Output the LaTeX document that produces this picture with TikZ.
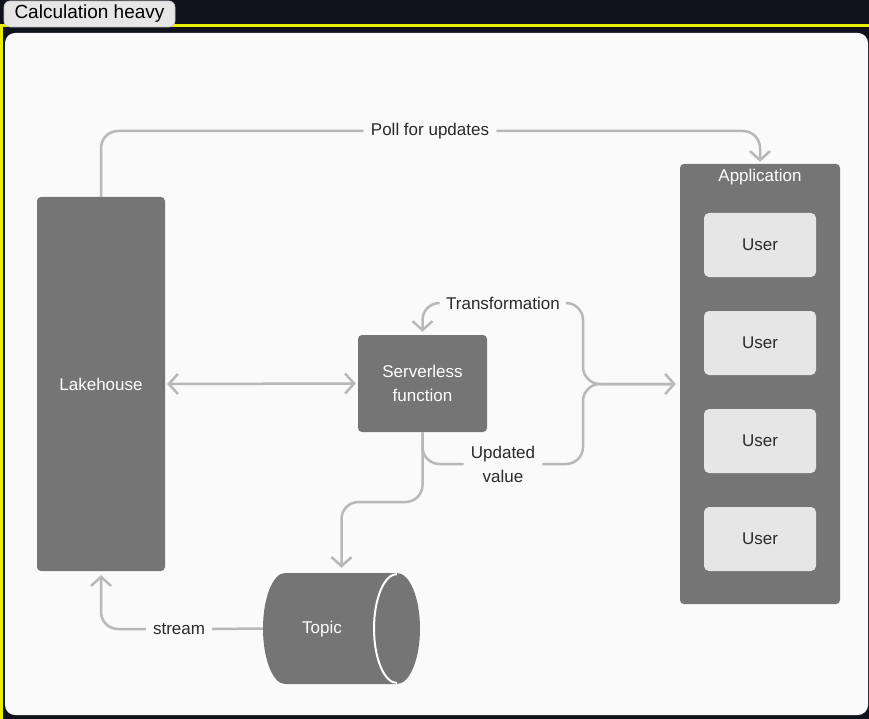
\documentclass[tikz,border=0pt]{standalone}
\usepackage{fontspec}
\setmainfont{Liberation Sans}
\usetikzlibrary{arrows.meta}
\definecolor{bgdark}{HTML}{10131C}
\definecolor{hl}{HTML}{E8F000}
\definecolor{panel}{HTML}{FAFAFA}
\definecolor{boxg}{HTML}{757575}
\definecolor{connc}{HTML}{B8B8B8}
\definecolor{userg}{HTML}{E6E6E6}
\definecolor{txt}{HTML}{2A2A2A}
\begin{document}
\begin{tikzpicture}[x=1pt,y=-1pt,
  lblfont/.style={font=\fontsize{17}{24}\selectfont},
  darkbox/.style={fill=boxg, rounded corners=4pt, text=white, lblfont, align=center, inner sep=0pt},
  userbox/.style={fill=userg, rounded corners=5pt, minimum width=112pt, minimum height=64pt, text=txt, lblfont, inner sep=0pt},
  lbl/.style={fill=panel, text=txt, lblfont, inner xsep=7pt, inner ysep=2pt, align=center},
  conn/.style={draw=connc, line width=2.5pt, rounded corners=17pt},
  tip/.style={-{Straight Barb[length=9pt,width=20pt]}},
  bitip/.style={{Straight Barb[length=9pt,width=20pt]}-{Straight Barb[length=9pt,width=20pt]}}
]
\useasboundingbox (0,0) rectangle (869,719);
\fill[bgdark] (0,0) rectangle (869,719);
\fill[hl] (0,24) rectangle (869,27);
\fill[hl] (0,24) rectangle (2.5,719);
\fill[panel, rounded corners=10pt] (5,33) rectangle (868,715);
\node[fill=userg, draw=black!25, line width=0.6pt, rounded corners=6pt, minimum width=171pt, minimum height=26pt, inner sep=0pt,
      text=black, font=\fontsize{19}{22}\selectfont] (title) at (89.5,14) {Calculation heavy};

% nodes
\node[darkbox, minimum width=128pt, minimum height=374pt] (lake) at (101,384) {Lakehouse};
\node[darkbox, minimum width=129pt, minimum height=97pt] (sf) at (422.5,383.5) {Serverless\\function};
\node[fill=boxg, rounded corners=4pt, minimum width=160pt, minimum height=440pt, inner sep=0pt] (app) at (760,384) {};
\node[text=white, lblfont, inner sep=0pt] (apptitle) at (760,177) {Application};
\node[userbox] (u1) at (760,245) {User};
\node[userbox] (u2) at (760,343) {User};
\node[userbox] (u3) at (760,441) {User};
\node[userbox] (u4) at (760,539) {User};

% topic cylinder
\node[minimum width=157pt, minimum height=111pt, inner sep=0pt] (topic) at (341.5,628.5) {};
\fill[boxg] (285,573) -- (397,573) arc[start angle=-90, end angle=90, x radius=23, y radius=55.5]
  -- (285,684) arc[start angle=90, end angle=270, x radius=22, y radius=55.5] -- cycle;
\draw[white, line width=2pt] (397,574) arc[start angle=-90, end angle=-270, x radius=23, y radius=54.5];
\node[text=white, lblfont, inner sep=0pt] (topictext) at (322,629) {Topic};

% labels
\node[lbl] (poll) at (430,131) {Poll for updates};
\node[lbl] (tr) at (503,303) {Transformation};
\node[lbl, inner ysep=0pt] (uv) at (503,464) {Updated\\value};
\node[lbl] (st) at (179,629) {stream};

% connectors
\draw[conn] (lake.north) -- (lake.north |- poll.west) -- (poll.west);
\draw[conn, tip, shorten >=2pt] (poll.east) -- (app.north |- poll.east) -- (app.north);
\draw[conn, bitip, shorten <=2pt, shorten >=2pt] (lake.east) -- (sf.west);
\draw[conn, tip, shorten >=3pt] (tr.west) -- (tr.west -| sf.north) -- (sf.north);
\draw[conn, tip, shorten >=4pt] (tr.east) -- (583,303) -- (583,384) -- (app.west);
\draw[conn, shorten >=8pt] (uv.east) -- (583,464) -- (583,384) -- (app.west);
\draw[conn] (sf.south) -- (sf.south |- uv.west) -- (uv.west);
\draw[conn, tip, shorten >=5pt] (sf.south) -- (sf.south |- 0,502) -- (topic.north |- 0,502) -- (topic.north);
\draw[conn] (topic.west) -- (st.east);
\draw[conn, tip, shorten >=4pt] (st.west) -- (lake.south |- st.west) -- (lake.south);
\end{tikzpicture}
\end{document}
